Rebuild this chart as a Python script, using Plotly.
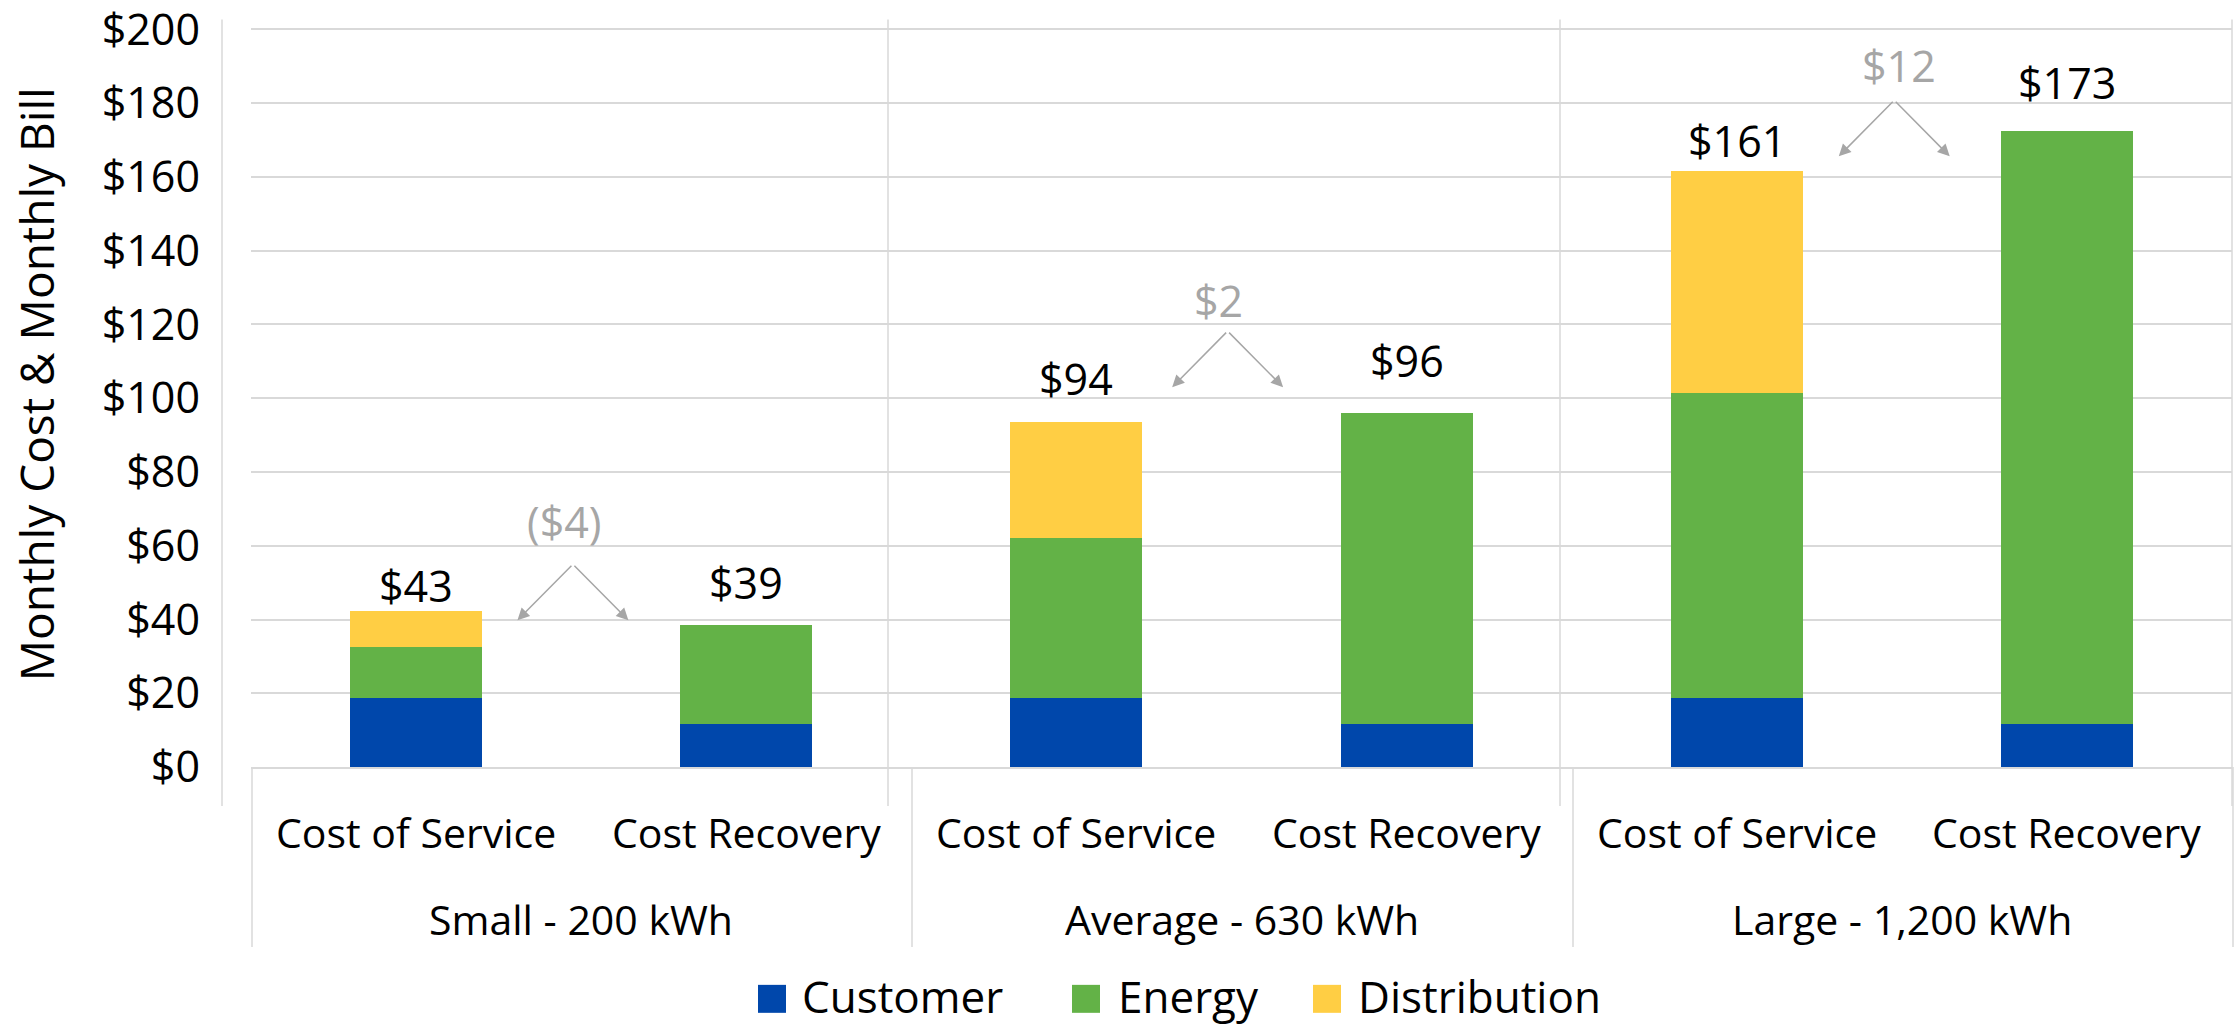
import plotly.graph_objects as go

# ---------------- data ----------------
groups = ["Small - 200 kWh", "Average - 630 kWh", "Large - 1,200 kWh"]
scenarios = ["Cost of Service", "Cost Recovery"]
series_names = ["Customer", "Energy", "Distribution"]
customer = [18.8, 11.7, 18.8, 11.7, 18.8, 11.7]
energy = [13.7, 26.8, 43.3, 84.4, 82.6, 160.8]
distribution = [9.9, 0.0, 31.5, 0.0, 60.1, 0.0]
total_labels = ["$43", "$39", "$94", "$96", "$161", "$173"]
diff_labels = ["($4)", "$2", "$12"]
y_ticks = list(range(0, 201, 20))

# ---------------- styling / placement ----------------
colors = ["#0047AB", "#63B247", "#FFCE44"]
GRID = "#D9D9D9"
GRAY = "#A6A6A6"
FONT = "Open Sans"

W, H = 2237, 1026
Y_MAX = 200.4
L, R, T, B = 251, 5, 27.5, 259
PW, PH = W - L - R, H - T - B


def px_x(px):
    return (px - L) / PW


def px_y(py):
    return (H - B - py) / PH


# label placement (data units)
total_label_y = [49.3, 49.9, 105.4, 110.3, 169.9, 185.7]
diff_text_pos = [(0.45, 66.5), (2.43, 126.6), (4.49, 190.2)]
diff_apex = [(0.475, 55.0), (2.458, 118.2), (4.477, 180.8)]
diff_tip_dx = 0.168
diff_tip_dy = [15.2, 15.2, 15.2]

x_pos = list(range(len(customer)))
series = [customer, energy, distribution]

fig = go.Figure()
for name, vals, col in zip(series_names, series, colors):
    fig.add_trace(go.Bar(
        x=x_pos, y=vals, name=name, width=0.4,
        marker=dict(color=col, line=dict(width=0)),
        showlegend=False, hoverinfo="skip",
    ))

annotations = []
shapes = []

# total labels
for i, (t, yy) in enumerate(zip(total_labels, total_label_y)):
    annotations.append(dict(x=i, y=yy, xref="x", yref="y", text=t, showarrow=False,
                            font=dict(family=FONT, size=43, color="#000000"),
                            xanchor="center", yanchor="middle"))

# difference labels and arrows
for g, lab in enumerate(diff_labels):
    tx, ty = diff_text_pos[g]
    annotations.append(dict(x=tx, y=ty, xref="x", yref="y", text=lab, showarrow=False,
                            font=dict(family=FONT, size=43, color=GRAY),
                            xanchor="center", yanchor="middle"))
    ax_, ay_ = diff_apex[g]
    for sgn in (-1, 1):
        annotations.append(dict(x=ax_ + sgn * diff_tip_dx, y=ay_ - diff_tip_dy[g],
                                xref="x", yref="y", ax=ax_, ay=ay_, axref="x", ayref="y",
                                text="", showarrow=True, arrowhead=2, arrowsize=1.6,
                                arrowwidth=1.5, arrowcolor=GRAY, standoff=0, startstandoff=0))

# category labels
for i in x_pos:
    annotations.append(dict(x=i, y=px_y(832), xref="x", yref="paper",
                            text=scenarios[i % 2], showarrow=False,
                            font=dict(family=FONT, size=41, color="#000000"),
                            xanchor="center", yanchor="middle"))
for g, gname in enumerate(groups):
    annotations.append(dict(x=2 * g + 0.5, y=px_y(919), xref="x", yref="paper",
                            text=gname, showarrow=False,
                            font=dict(family=FONT, size=41, color="#000000"),
                            xanchor="center", yanchor="middle"))

# y-axis title
annotations.append(dict(x=px_x(36), y=px_y(384), xref="paper", yref="paper",
                        text="Monthly Cost & Monthly Bill", textangle=-90, showarrow=False,
                        font=dict(family=FONT, size=46, color="#000000"),
                        xanchor="center", yanchor="middle"))

# vertical separator lines
for xp in [222, 888, 1560, 2232]:
    shapes.append(dict(type="line", xref="paper", yref="paper",
                       x0=px_x(xp), x1=px_x(xp), y0=px_y(19), y1=px_y(806),
                       line=dict(color=GRID, width=1.5), layer="below"))
for xp in [252, 912, 1573, 2233]:
    shapes.append(dict(type="line", xref="paper", yref="paper",
                       x0=px_x(xp), x1=px_x(xp), y0=px_y(767), y1=px_y(947),
                       line=dict(color=GRID, width=1.5), layer="below"))

# manual legend
leg_sq_x = [758, 1072, 1313]
leg_txt_x = [800, 1116, 1356]
for name, col, sx, tx in zip(series_names, colors, leg_sq_x, leg_txt_x):
    shapes.append(dict(type="rect", xref="paper", yref="paper",
                       x0=px_x(sx), x1=px_x(sx + 28), y0=px_y(1013), y1=px_y(985),
                       fillcolor=col, line=dict(width=0)))
    annotations.append(dict(x=px_x(tx), y=px_y(996), xref="paper", yref="paper",
                            text=name, showarrow=False,
                            font=dict(family=FONT, size=44, color="#000000"),
                            xanchor="left", yanchor="middle"))

fig.update_layout(
    width=W, height=H,
    margin=dict(l=L, r=R, t=T, b=B, autoexpand=False),
    barmode="stack",
    plot_bgcolor="white", paper_bgcolor="white",
    font=dict(family=FONT, color="#000000"),
    annotations=annotations, shapes=shapes,
    showlegend=False,
    xaxis=dict(range=[-0.5, 5.5], showticklabels=False, showgrid=False, zeroline=False,
               showline=True, linecolor=GRID, linewidth=1.5, ticks="", fixedrange=True),
    yaxis=dict(range=[0, Y_MAX], tickvals=y_ticks, ticktext=["$" + str(v) for v in y_ticks],
               showgrid=True, gridcolor=GRID, gridwidth=1.5, zeroline=False, showline=False,
               ticks="", ticklabelstandoff=50, ticklabeloverflow="allow",
               tickfont=dict(family=FONT, size=43, color="#000000")),
)

fig.write_html("out.html", config={"displayModeBar": False},
               post_script="document.body.style.margin='0px';")
